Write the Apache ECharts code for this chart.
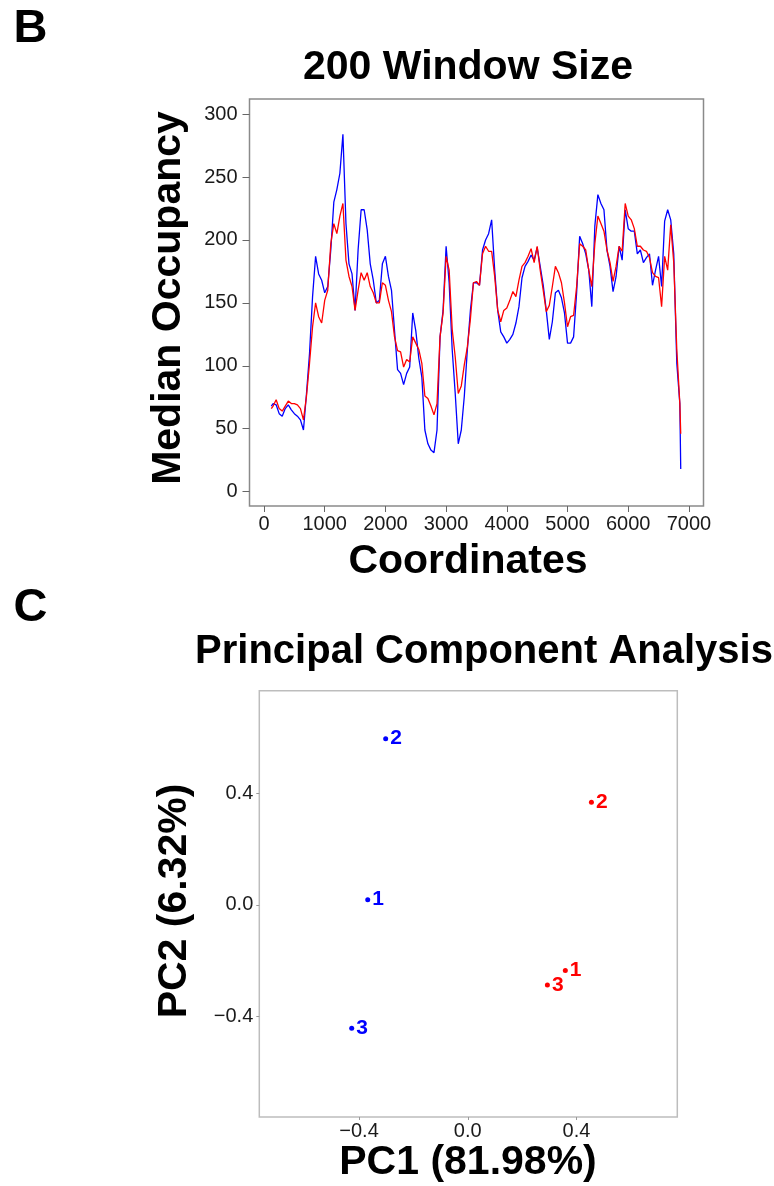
<!DOCTYPE html>
<html>
<head>
<meta charset="utf-8">
<script src="https://cdn.jsdelivr.net/npm/echarts@6/dist/echarts.min.js"></script>
<style>
html,body{margin:0;padding:0;background:#fff;}
#chart{width:774px;height:1186px;}
</style>
</head>
<body>
<div id="chart"></div>
<script>
// ---- Panel B: median occupancy along coordinates (window size 200) ----
const coords = [120,150,200,250,300,350,400,450,500,550,600,650,700,750,800,850,900,950,1000,1050,1100,1150,1200,1250,1300,1350,1400,1450,1500,1550,1600,1650,1700,1750,1800,1850,1900,1950,2000,2050,2100,2150,2200,2250,2300,2350,2400,2450,2500,2550,2600,2650,2700,2750,2800,2850,2900,2950,3000,3050,3100,3150,3200,3250,3300,3350,3400,3450,3500,3550,3600,3650,3700,3750,3800,3850,3900,3950,4000,4050,4100,4150,4200,4250,4300,4350,4400,4450,4500,4550,4600,4650,4700,4750,4800,4850,4900,4950,5000,5050,5100,5150,5200,5250,5300,5350,5400,5450,5500,5550,5600,5650,5700,5750,5800,5850,5900,5950,6000,6050,6100,6150,6200,6250,6300,6350,6400,6450,6500,6550,6600,6650,6700,6750,6800,6850,6865];
const blueOcc = [68,70,69,62,60,66,69,65,62,60,57,49,78,110,155,187,173,168,158,163,192,230,240,253,284,213,181,173,144,192,224,224,208,181,168,150,152,181,187,171,160,128,97,94,85,94,99,142,128,106,91,49,38,33,31,49,123,144,195,166,113,78,38,49,76,113,144,166,166,164,192,200,205,216,176,144,127,123,118,121,125,134,147,170,179,183,188,184,194,179,164,144,121,135,158,160,154,142,118,118,123,158,203,197,189,176,147,211,236,229,224,192,179,159,171,195,184,224,209,207,207,189,192,182,186,189,164,176,187,163,215,224,216,189,102,70,18];
const redOcc = [66,68,73,66,64,68,72,70,70,69,66,57,76,102,131,150,139,134,152,160,197,213,205,219,229,184,171,163,144,160,174,168,174,163,158,150,150,166,164,152,143,123,112,111,99,105,103,123,118,113,102,76,74,68,61,70,123,142,187,176,129,107,78,84,101,115,137,166,167,164,189,195,191,191,171,144,135,144,146,152,159,155,168,179,182,187,193,182,195,176,160,143,148,163,179,174,166,150,131,139,140,163,197,195,192,176,163,197,219,213,207,192,182,167,179,195,191,229,219,216,209,195,195,192,191,186,174,171,170,147,187,176,212,182,113,70,46];
const coordTicks = [0,1000,2000,3000,4000,5000,6000,7000];
const occTicks = [0,50,100,150,200,250,300];

// ---- Panel C: principal component analysis ----
const blueLabels = ['1','2','3'];
const bluePC1 = [-0.368,-0.302,-0.427];
const bluePC2 = [0.019,0.596,-0.442];
const redLabels = ['1','2','3'];
const redPC1 = [0.359,0.455,0.293];
const redPC2 = [-0.235,0.368,-0.287];
const pcTicks = [-0.4,0,0.4];

const FONT = '"Liberation Sans", Arial, Helvetica, sans-serif';
const BLUE = '#0000ff', RED = '#ff0000';
const labelColor = '#1a1a1a';

const chart = echarts.init(document.getElementById('chart'), null, {renderer:'canvas'});

function pcFmt(v){
  if (Math.abs(v) < 1e-9) return '0.0';
  return (v < 0 ? '\u2212' : '') + Math.abs(v).toFixed(1);
}
function plainFmt(v){ return String(Math.round(v)); }

const option = {
  backgroundColor: '#ffffff',
  animation: false,
  grid: [
    {left: 249.5, top: 99, width: 454, height: 407, show: true, borderColor: '#8a8a8a', borderWidth: 1.5, backgroundColor: 'transparent', containLabel: false},
    {left: 259.3, top: 690.7, width: 418, height: 426.3, show: true, borderColor: '#bdbdbd', borderWidth: 1.5, backgroundColor: 'transparent', containLabel: false}
  ],
  xAxis: [
    {type: 'value', gridIndex: 0, min: -239, max: 7240, position: 'bottom',
     axisLine: {show: false, onZero: false}, splitLine: {show: false},
     axisTick: {show: true, length: 6, customValues: coordTicks, lineStyle: {color: '#666', width: 1}},
     axisLabel: {customValues: coordTicks, fontSize: 20, color: labelColor, fontFamily: FONT, margin: 8, formatter: plainFmt}},
    {type: 'value', gridIndex: 1, min: -0.767, max: 0.771, position: 'bottom',
     axisLine: {show: false, onZero: false}, splitLine: {show: false},
     axisTick: {show: true, length: 3, customValues: pcTicks, lineStyle: {color: '#999', width: 1}},
     axisLabel: {customValues: pcTicks, fontSize: 20, color: labelColor, fontFamily: FONT, margin: 4, formatter: pcFmt}}
  ],
  yAxis: [
    {type: 'value', gridIndex: 0, min: -11.4, max: 312, position: 'left',
     axisLine: {show: false, onZero: false}, splitLine: {show: false},
     axisTick: {show: true, length: 7, customValues: occTicks, lineStyle: {color: '#666', width: 1}},
     axisLabel: {customValues: occTicks, fontSize: 20, color: labelColor, fontFamily: FONT, margin: 12, formatter: plainFmt}},
    {type: 'value', gridIndex: 1, min: -0.76, max: 0.768, position: 'left',
     axisLine: {show: false, onZero: false}, splitLine: {show: false},
     axisTick: {show: true, length: 3, customValues: pcTicks, lineStyle: {color: '#999', width: 1}},
     axisLabel: {customValues: pcTicks, fontSize: 20, color: labelColor, fontFamily: FONT, margin: 6, formatter: pcFmt}}
  ],
  series: [
    {type: 'line', xAxisIndex: 0, yAxisIndex: 0, showSymbol: false, symbol: 'none',
     data: coords.map((c, i) => [c, blueOcc[i]]),
     lineStyle: {color: BLUE, width: 1.3}, itemStyle: {color: BLUE}},
    {type: 'line', xAxisIndex: 0, yAxisIndex: 0, showSymbol: false, symbol: 'none',
     data: coords.map((c, i) => [c, redOcc[i]]),
     lineStyle: {color: RED, width: 1.3}, itemStyle: {color: RED}},
    {type: 'scatter', xAxisIndex: 1, yAxisIndex: 1, symbol: 'circle', symbolSize: 5,
     data: bluePC1.map((v, i) => [v, bluePC2[i], blueLabels[i]]),
     itemStyle: {color: BLUE, opacity: 1},
     label: {show: true, position: 'right', distance: 2, formatter: p => p.value[2], color: BLUE, fontSize: 21, fontWeight: 'bold', fontFamily: FONT}},
    {type: 'scatter', xAxisIndex: 1, yAxisIndex: 1, symbol: 'circle', symbolSize: 5,
     data: redPC1.map((v, i) => [v, redPC2[i], redLabels[i]]),
     itemStyle: {color: RED, opacity: 1},
     label: {show: true, position: 'right', distance: 2, formatter: p => p.value[2], color: RED, fontSize: 21, fontWeight: 'bold', fontFamily: FONT}}
  ],
  graphic: [
    {type: 'text', x: 30.5, y: 29, style: {text: 'B', font: 'bold 47px ' + FONT, fill: '#000', textAlign: 'center', textVerticalAlign: 'middle'}},
    {type: 'text', x: 30.5, y: 608, style: {text: 'C', font: 'bold 47px ' + FONT, fill: '#000', textAlign: 'center', textVerticalAlign: 'middle'}},
    {type: 'text', x: 468, y: 68, style: {text: '200 Window Size', font: 'bold 41px ' + FONT, fill: '#000', textAlign: 'center', textVerticalAlign: 'middle'}},
    {type: 'text', x: 468, y: 562, style: {text: 'Coordinates', font: 'bold 41px ' + FONT, fill: '#000', textAlign: 'center', textVerticalAlign: 'middle'}},
    {type: 'text', x: 169, y: 298, rotation: Math.PI / 2, style: {text: 'Median Occupancy', font: 'bold 41px ' + FONT, fill: '#000', textAlign: 'center', textVerticalAlign: 'middle'}},
    {type: 'text', x: 484, y: 652, style: {text: 'Principal Component Analysis', font: 'bold 40px ' + FONT, fill: '#000', textAlign: 'center', textVerticalAlign: 'middle'}},
    {type: 'text', x: 468, y: 1163, style: {text: 'PC1 (81.98%)', font: 'bold 41px ' + FONT, fill: '#000', textAlign: 'center', textVerticalAlign: 'middle'}},
    {type: 'text', x: 175, y: 901, rotation: Math.PI / 2, style: {text: 'PC2 (6.32%)', font: 'bold 41px ' + FONT, fill: '#000', textAlign: 'center', textVerticalAlign: 'middle'}}
  ]
};
chart.setOption(option);
</script>
</body>
</html>
